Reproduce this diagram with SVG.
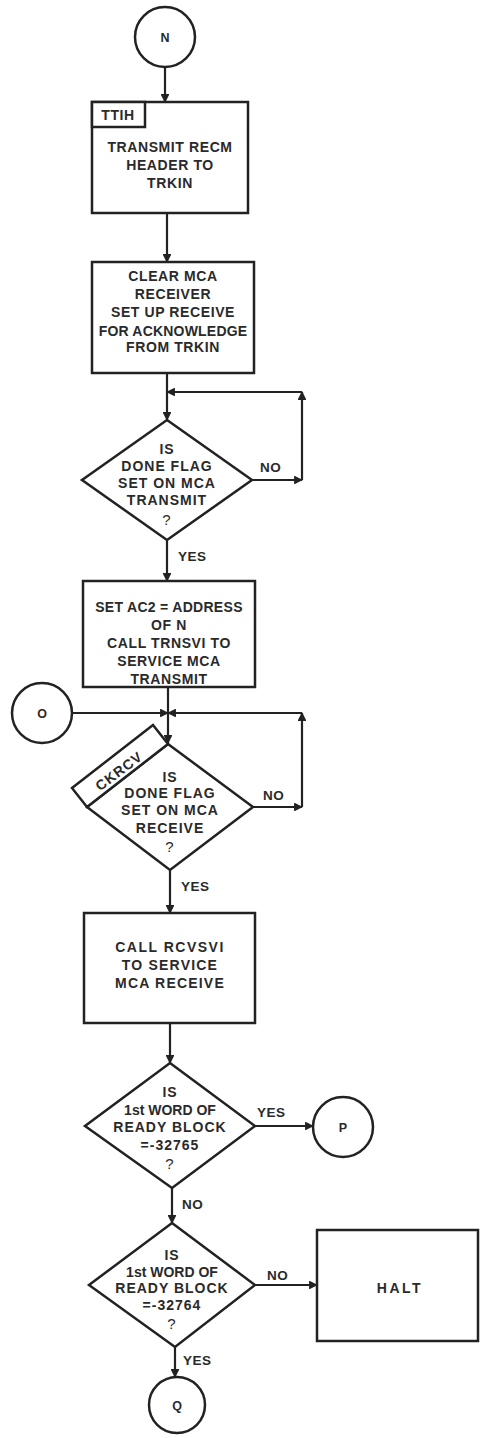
<svg xmlns="http://www.w3.org/2000/svg" width="480" height="1438" viewBox="0 0 480 1438">
<defs>
<marker id="ah" viewBox="0 0 10 10" refX="9" refY="5" markerWidth="4" markerHeight="4" orient="auto" markerUnits="strokeWidth">
<path d="M0,0 L10,5 L0,10 z" fill="#222"/>
</marker>
<style>
.s{fill:#fff;stroke:#222;stroke-width:2.5}
.c{fill:none;stroke:#222;stroke-width:2.2;marker-end:url(#ah)}
.t{font-family:"Liberation Sans",Arial,sans-serif;font-size:14px;font-weight:bold;fill:#2a2a2a;text-anchor:middle;letter-spacing:0.6px}
.d{font-family:"Liberation Sans",Arial,sans-serif;font-size:14px;font-weight:bold;fill:#2a2a2a;text-anchor:middle;letter-spacing:1px}
.l{font-family:"Liberation Sans",Arial,sans-serif;font-size:13.5px;font-weight:bold;fill:#2a2a2a;text-anchor:start;letter-spacing:0.5px}
.k{font-family:"Liberation Sans",Arial,sans-serif;font-size:12.5px;font-weight:bold;fill:#2a2a2a;text-anchor:middle}
</style>
</defs>
<rect width="480" height="1438" fill="#fff"/>
<g id="connectors">
<path class="c" d="M165,67 L165,102"/>
<path class="c" d="M167,213 L167,262"/>
<path class="c" d="M167,373 L167,420"/>
<path class="c" d="M252,480 L302,480"/>
<path class="c" d="M302,480 L302,392"/>
<path class="c" d="M302,392 L167,392"/>
<path class="c" d="M167,540 L167,581"/>
<path class="c" d="M168,687 L168,743"/>
<path class="c" d="M72,713 L168,713"/>
<path class="c" d="M253,807 L302,807"/>
<path class="c" d="M302,807 L302,713"/>
<path class="c" d="M302,713 L168,713"/>
<path class="c" d="M170,870 L170,913"/>
<path class="c" d="M170,1023 L170,1063"/>
<path class="c" d="M255,1126 L313,1126"/>
<path class="c" d="M172,1188 L172,1223"/>
<path class="c" d="M255,1285 L317,1285"/>
<path class="c" d="M175,1347 L175,1377"/>
<text class="l" x="178" y="561">YES</text>
<text class="l" x="260" y="472">NO</text>
<text class="l" x="263" y="800">NO</text>
<text class="l" x="181" y="891">YES</text>
<text class="l" x="257" y="1117">YES</text>
<text class="l" x="182" y="1209">NO</text>
<text class="l" x="267" y="1280">NO</text>
<text class="l" x="183" y="1365">YES</text>
</g>
<g id="N">
<circle class="s" cx="165" cy="37" r="30"/>
<text class="k" x="165" y="42">N</text>
</g>
<g id="TTIH">
<rect class="s" x="92" y="102" width="156" height="111"/>
<rect class="s" x="92" y="102" width="53" height="25"/>
<text class="t" x="118" y="120">TTIH</text>
<text class="t" x="170" y="152">TRANSMIT RECM</text>
<text class="t" x="170" y="170">HEADER TO</text>
<text class="t" x="170" y="188">TRKIN</text>
</g>
<g id="clear">
<rect class="s" x="92" y="262" width="162" height="111"/>
<text class="t" x="173" y="281">CLEAR MCA</text>
<text class="t" x="173" y="299">RECEIVER</text>
<text class="t" x="173" y="317">SET UP RECEIVE</text>
<text class="t" x="173" y="336" style="letter-spacing:0.2px">FOR ACKNOWLEDGE</text>
<text class="t" x="173" y="352">FROM TRKIN</text>
</g>
<g id="d1">
<path class="s" d="M167,420 L252,480 L167,540 L82,480 Z"/>
<text class="d" x="167" y="454">IS</text>
<text class="d" x="167" y="471">DONE FLAG</text>
<text class="d" x="167" y="488">SET ON MCA</text>
<text class="d" x="167" y="505">TRANSMIT</text>
<text class="d" x="167" y="525" style="font-weight:normal;font-size:15px">?</text>
</g>
<g id="setac2">
<rect class="s" x="83" y="581" width="172" height="106"/>
<text class="t" x="169" y="612" style="letter-spacing:0.3px">SET AC2 = ADDRESS</text>
<text class="t" x="169" y="630">OF N</text>
<text class="t" x="169" y="648">CALL TRNSVI TO</text>
<text class="t" x="169" y="666">SERVICE MCA</text>
<text class="t" x="169" y="684">TRANSMIT</text>
</g>
<g id="O">
<circle class="s" cx="42" cy="713" r="30"/>
<text class="k" x="42" y="718">O</text>
</g>
<g id="d2">
<path class="s" d="M168,744 L253,807 L170,870 L87,807 Z"/>
<path class="s" d="M87,807 L168,744 L153,725 L72,788 Z"/>
<text class="d" x="0" y="0" transform="translate(122,775) rotate(-37)">CKRCV</text>
<text class="d" x="170" y="782">IS</text>
<text class="d" x="170" y="798">DONE FLAG</text>
<text class="d" x="170" y="815">SET ON MCA</text>
<text class="d" x="170" y="833">RECEIVE</text>
<text class="d" x="170" y="852" style="font-weight:normal;font-size:15px">?</text>
</g>
<g id="rcvsvi">
<rect class="s" x="84" y="913" width="171" height="110"/>
<text class="t" x="170" y="952" style="letter-spacing:1.5px">CALL RCVSVI</text>
<text class="t" x="170" y="970" style="letter-spacing:1.2px">TO SERVICE</text>
<text class="t" x="170" y="988" style="letter-spacing:1.2px">MCA RECEIVE</text>
</g>
<g id="d3">
<path class="s" d="M170,1063 L255,1126 L172,1188 L85,1126 Z"/>
<text class="d" x="170" y="1097">IS</text>
<text class="d" x="170" y="1115" style="letter-spacing:0">1st WORD OF</text>
<text class="d" x="170" y="1132">READY BLOCK</text>
<text class="d" x="170" y="1150">=-32765</text>
<text class="d" x="170" y="1169" style="font-weight:normal;font-size:15px">?</text>
</g>
<g id="P">
<circle class="s" cx="343" cy="1127" r="30"/>
<text class="k" x="343" y="1132">P</text>
</g>
<g id="d4">
<path class="s" d="M172,1223 L255,1285 L175,1347 L89,1285 Z"/>
<text class="d" x="172" y="1260">IS</text>
<text class="d" x="172" y="1277" style="letter-spacing:0">1st WORD OF</text>
<text class="d" x="172" y="1293">READY BLOCK</text>
<text class="d" x="172" y="1310">=-32764</text>
<text class="d" x="172" y="1329" style="font-weight:normal;font-size:15px">?</text>
</g>
<g id="HALT">
<rect class="s" x="317" y="1230" width="161" height="111"/>
<text class="t" x="400" y="1293" style="letter-spacing:2.5px">HALT</text>
</g>
<g id="Q">
<circle class="s" cx="177" cy="1405" r="28"/>
<text class="k" x="177" y="1410">Q</text>
</g>
</svg>
